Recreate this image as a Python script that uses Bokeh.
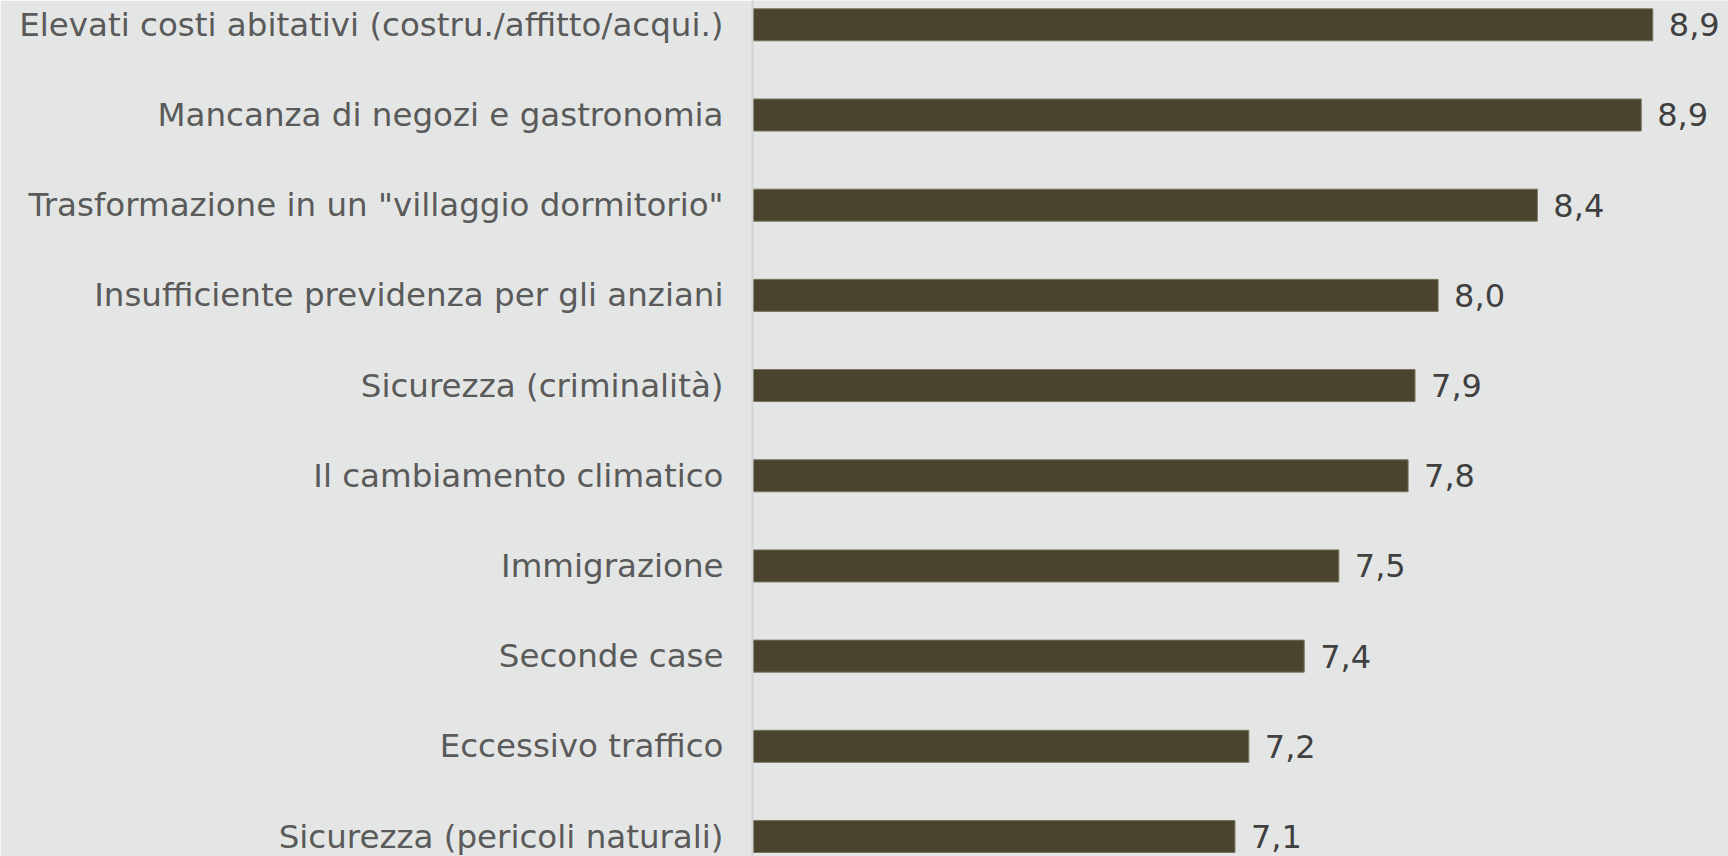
from bokeh.plotting import figure
from bokeh.models import Range1d, FixedTicker, ColumnDataSource
from bokeh.core.properties import value
from bokeh.embed import file_html
from bokeh.resources import INLINE

categories = [
    "Elevati costi abitativi (costru./affitto/acqui.)",
    "Mancanza di negozi e gastronomia",
    "Trasformazione in un \"villaggio dormitorio\"",
    "Insufficiente previdenza per gli anziani",
    "Sicurezza (criminalità)",
    "Il cambiamento climatico",
    "Immigrazione",
    "Seconde case",
    "Eccessivo traffico",
    "Sicurezza (pericoli naturali)",
]
values = [8.90, 8.85, 8.40, 7.97, 7.87, 7.84, 7.54, 7.39, 7.15, 7.09]
value_labels = ["8,9", "8,9", "8,4", "8,0", "7,9", "7,8", "7,5", "7,4", "7,2", "7,1"]
positions = list(range(len(categories)))

BG = "#e4e6e5"
BAR = "#4a442e"
FONT = "DejaVu Sans"

src = ColumnDataSource(dict(y=positions, v=values, lab=value_labels, cat=categories))

p = figure(
    width=1728, height=856,
    output_backend="svg", toolbar_location=None,
    x_axis_location=None,
    x_range=Range1d(5.0, 9.228),
    y_range=Range1d(9.2217, -0.2694),
    min_border_left=752, min_border_right=0, min_border_top=0, min_border_bottom=0,
    background_fill_color=BG, border_fill_color=BG, outline_line_color=None,
    styles={"position": "absolute", "top": "0px", "left": "0px"},
)

p.hbar(y="y", left=5.0, right="v", height=0.355, source=src,
       fill_color=BAR, line_color="#7a745e", line_width=1)

p.text(x="v", y="y", text="lab", source=src, x_offset=16,
       text_baseline="middle", text_align="left",
       text_font=value(FONT), text_font_size="32px", text_color="#404040")

p.xgrid.visible = False
p.ygrid.visible = False

ax = p.yaxis[0]
ax.ticker = FixedTicker(ticks=positions)
ax.major_label_overrides = {i: c for i, c in zip(positions, categories)}
ax.major_tick_out = 0
ax.major_tick_in = 0
ax.minor_tick_out = 0
ax.minor_tick_in = 0
ax.major_label_standoff = 29
ax.major_label_text_font = FONT
ax.major_label_text_font_size = "32.5px"
ax.major_label_text_color = "#5a5a5a"
ax.axis_line_color = "#d2d4d3"
ax.axis_line_width = 2

open("out.html", "w").write(file_html(p, INLINE))
